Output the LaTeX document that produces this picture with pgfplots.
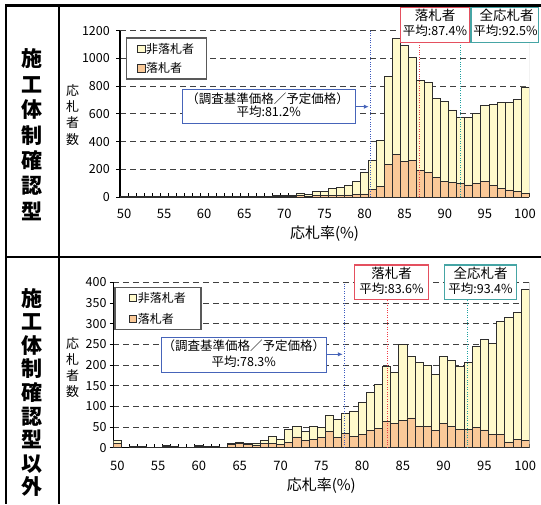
\documentclass[border=0pt]{standalone}
\usepackage{fontspec}
\setmainfont{Noto Sans CJK JP}
\usepackage{pgfplots}
\usepackage{pgfplotstable}
\pgfplotsset{compat=1.18}
\usetikzlibrary{arrows.meta}

\definecolor{barYellow}{RGB}{255,250,204}
\definecolor{barOrange}{RGB}{250,201,152}
\definecolor{edge}{RGB}{45,45,45}
\definecolor{avgBlue}{RGB}{60,90,190}
\definecolor{avgRed}{RGB}{240,60,70}
\definecolor{avgTeal}{RGB}{30,160,160}
\definecolor{boxRed}{RGB}{228,80,95}
\definecolor{boxTeal}{RGB}{70,165,165}
\definecolor{boxBlue}{RGB}{70,100,185}

% 応札率 (bin start, %), 落札者 (win), 非落札者 (lose)
\pgfplotstableread{
pct win lose
50 1 2
51 1 2
52 1 2
53 1 2
54 1 2
55 1 2
56 1 2
57 1 2
58 1 2
59 2 1
60 3 1
61 3 1
62 3 1
63 3 1
64 3 1
65 3 2
66 3 2
67 2 2
68 3 3
69 4 4
70 5 7
71 6 8
72 8 18
73 6 12
74 8 33
75 8 33
76 8 55
77 10 60
78 15 67
79 19 94
80 22 154
81 52 213
82 79 327
83 236 634
84 308 838
85 258 838
86 263 745
87 192 651
88 180 648
89 140 568
90 112 578
91 102 526
92 100 474
93 87 487
94 95 508
95 111 548
96 83 586
97 64 617
98 51 633
99 40 667
100 27 767
}\dataKakunin

\pgfplotstableread{
pct win lose
50 10 7
51 0 0
52 2 2
53 1 1
54 1 0
55 1 0
56 3 2
57 2 2
58 1 0
59 1 0
60 3 2
61 2 2
62 2 2
63 1 0
64 8 3
65 10 4
66 7 4
67 5 5
68 10 7
69 11 16
70 8 12
71 12 32
72 26 26
73 18 21
74 20 32
75 24 25
76 39 38
77 24 44
78 34 49
79 27 62
80 31 78
81 41 93
82 47 105
83 63 133
84 58 124
85 67 183
86 72 149
87 52 154
88 51 149
89 41 136
90 59 162
91 52 159
92 44 153
93 44 162
94 49 195
95 43 219
96 32 220
97 31 275
98 14 300
99 21 306
100 17 365
}\dataIgai

\pgfplotsset{
  bidaxis/.style={
    scale only axis,
    ybar stacked,
    bar width=1, bar shift=0.5,
    xmin=50, xmax=101, ymin=0,
    axis x line*=bottom, axis y line*=left,
    xtick pos=left, ytick pos=left,
    axis line style={-, black, line width=1.3pt},
    % a mark at every bin boundary, the label of every 5th bin under its centre
    xtick={50,51,...,101},
    xticklabels={50,,,,,55,,,,,60,,,,,65,,,,,70,,,,,75,,,,,80,,,,,85,,,,,90,,,,,95,,,,,100,},
    xtick align=inside, ytick align=outside,
    major tick length=3.8pt,
    every tick/.style={black, line width=0.8pt},
    ymajorgrids,
    major grid style={black!75, line width=0.9pt, dash pattern=on 6pt off 4pt},
    scaled y ticks=false,
    /pgf/number format/assume math mode=true,
    /pgf/number format/1000 sep={},
    xticklabel style={anchor=center, font=\fontsize{13}{13}\selectfont},
    yticklabel style={anchor=east, inner sep=0pt, font=\fontsize{12.5}{13}\selectfont},
    xlabel={応札率(\%)},
    ylabel={応\\札\\者\\数},
    reverse legend,
    legend cell align=left,
    legend image code/.code={\draw[#1, line width=0.6pt] (0pt,-3.6pt) rectangle (7.2pt,3.6pt);},
    legend style={draw=black!65, line width=1.4pt, fill=white,
      font=\fontsize{12}{14}\selectfont, row sep=6pt,
      inner ysep=4pt, nodes={inner sep=1pt}},
  },
  avgaxis/.style={
    scale only axis, hide axis, xmin=50, xmax=101, ymin=0,
  },
  avgline/.style={mark=none, line width=0.9pt, dash pattern=on 1pt off 1.4pt},
}

\begin{document}
\begin{tikzpicture}[x=1pt,y=-1pt]
\useasboundingbox (0,0) rectangle (541,504);

% ---------- 施工体制確認型 ----------
\begin{axis}[bidaxis,
  at={(120pt,-197pt)}, anchor=south west, width=409pt, height=166.3pt,
  ymax=1200, ytick={0,200,...,1200},
  yticklabel style={xshift=-6.2pt},
  xticklabel style={yshift=-17.3pt, xshift=4.01pt},
  every axis x label/.style={at={(axis description cs:0.5,0)}, anchor=center,
    yshift=-36.7pt, font=\fontsize{15}{16}\selectfont},
  every axis y label/.style={at={(axis description cs:0,0.493)}, anchor=center,
    xshift=-47.3pt, align=center, font=\fontsize{13}{16.1}\selectfont},
  legend style={at={(0,1)}, anchor=north west, xshift=5.7pt, yshift=-6.6pt, inner xsep=11pt},
]
\addplot[fill=barOrange, draw=edge, line width=0.8pt] table[x=pct, y=win] {\dataKakunin};
\addlegendentry{落札者}
\addplot[fill=barYellow, draw=edge, line width=0.8pt] table[x=pct, y=lose] {\dataKakunin};
\addlegendentry{非落札者}
\end{axis}
\begin{axis}[avgaxis, at={(120pt,-197pt)}, anchor=south west,
  width=409pt, height=166.3pt, ymax=1200]
\draw[black!40, line width=0.8pt] (rel axis cs:1,0) -- (rel axis cs:1,1);
\addplot[avgline, avgBlue] coordinates {(81.2,0) (81.2,1200)};
\addplot[avgline, avgRed] coordinates {(87.4,0) (87.4,1200)};
\addplot[avgline, avgTeal] coordinates {(92.5,0) (92.5,1200)};
\end{axis}

% ---------- 施工体制確認型以外 ----------
\begin{axis}[bidaxis,
  at={(113.3pt,-447.7pt)}, anchor=south west, width=416pt, height=165.4pt,
  ymax=400, ytick={0,50,...,400},
  yticklabel style={xshift=-2.8pt},
  xticklabel style={yshift=-18.1pt, xshift=4.08pt},
  every axis x label/.style={at={(axis description cs:0.5,0)}, anchor=center,
    yshift=-38.1pt, font=\fontsize{15}{16}\selectfont},
  every axis y label/.style={at={(axis description cs:0,0.485)}, anchor=center,
    xshift=-40.6pt, align=center, font=\fontsize{13}{16}\selectfont},
  legend style={at={(0,1)}, anchor=north west, xshift=1pt, yshift=-4.4pt, inner xsep=14pt, row sep=7pt},
]
\addplot[fill=barOrange, draw=edge, line width=0.8pt] table[x=pct, y=win] {\dataIgai};
\addlegendentry{落札者}
\addplot[fill=barYellow, draw=edge, line width=0.8pt] table[x=pct, y=lose] {\dataIgai};
\addlegendentry{非落札者}
\end{axis}
\begin{axis}[avgaxis, at={(113.3pt,-447.7pt)}, anchor=south west,
  width=416pt, height=165.4pt, ymax=400]
\draw[black!40, line width=0.8pt] (rel axis cs:1,0) -- (rel axis cs:1,1);
\addplot[avgline, avgBlue] coordinates {(78.3,0) (78.3,400)};
\addplot[avgline, avgRed] coordinates {(83.6,0) (83.6,400)};
\addplot[avgline, avgTeal] coordinates {(93.4,0) (93.4,400)};
\end{axis}

% ---------- 注記 ----------
\tikzset{avgtitle/.style={font=\fontsize{13.5}{14}\selectfont, inner sep=0pt},
         avgtext/.style={font=\fontsize{12.5}{14}\selectfont, inner sep=0pt}}
% upper panel
\draw[boxBlue, line width=1pt, fill=white] (182.3,89.3) rectangle (355,123.3);
\node[avgtext] at (267.5,98.7) {（調査基準価格／予定価格）};
\node[avgtext] at (268.7,111.7) {平均:81.2\%};
\draw[boxBlue, line width=1pt, -{Latex[length=5pt,width=4.5pt]}] (355,106.7) -- (368.8,106.7);
\draw[boxRed, line width=1.5pt, fill=white] (400.7,7.2) rectangle (469.3,42.3);
\node[avgtitle] at (435,15.3) {落札者};
\node[avgtext] at (435,31) {平均:87.4\%};
\draw[boxTeal, line width=1.5pt, fill=white] (471,7.2) rectangle (538.3,42.3);
\node[avgtitle] at (506.5,15.3) {全応札者};
\node[avgtext] at (505.5,31) {平均:92.5\%};
% lower panel
\draw[boxBlue, line width=1pt, fill=white] (161,337.3) rectangle (326.7,372);
\node[avgtext] at (243.8,346.2) {（調査基準価格／予定価格）};
\node[avgtext] at (243.8,362.2) {平均:78.3\%};
\draw[boxBlue, line width=1pt, -{Latex[length=5pt,width=4.5pt]}] (326.7,354.3) -- (342.8,354.3);
\draw[boxRed, line width=1.5pt, fill=white] (354.3,265) rectangle (428.3,299.3);
\node[avgtitle] at (391.5,273.3) {落札者};
\node[avgtext] at (391.5,288.3) {平均:83.6\%};
\draw[boxTeal, line width=1.5pt, fill=white] (444.3,265) rectangle (516.7,299.3);
\node[avgtitle] at (480.5,273.3) {全応札者};
\node[avgtext] at (480.5,288.3) {平均:93.4\%};

% ---------- 表の枠と区分名 ----------
\draw[line width=2.5pt] (5,5.7) -- (541,5.7);
\draw[line width=2.2pt] (5,256.7) -- (541,256.7);
\draw[line width=2pt] (6,4.5) -- (6,504);
\draw[line width=2pt] (58.7,4.5) -- (58.7,504);
\node[align=center, font=\fontsize{21}{25.4}\selectfont\bfseries] at (32.3,134.8)
  {施\\工\\体\\制\\確\\認\\型};
\node[align=center, font=\fontsize{21}{23.6}\selectfont\bfseries] at (32.3,392.5)
  {施\\工\\体\\制\\確\\認\\型\\以\\外};
\end{tikzpicture}
\end{document}
